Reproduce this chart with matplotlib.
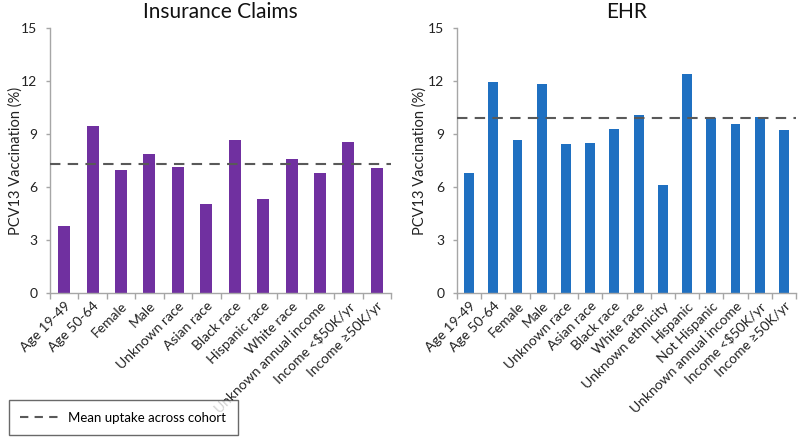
import matplotlib
matplotlib.use("Agg")
import matplotlib.pyplot as plt
from matplotlib.lines import Line2D
import numpy as np

plt.rcParams['font.family'] = ['Lato', 'DejaVu Sans']

ins_categories = ["Age 19-49", "Age 50-64", "Female", "Male", "Unknown race", "Asian race",
                  "Black race", "Hispanic race", "White race", "Unknown annual income",
                  "Income <$50K/yr", "Income \u226550K/yr"]
ins_values = [3.8, 9.43, 6.94, 7.87, 7.16, 5.03, 8.64, 5.33, 7.58, 6.82, 8.56, 7.05]
ins_mean = 7.28

ehr_categories = ["Age 19-49", "Age 50-64", "Female", "Male", "Unknown race", "Asian race",
                  "Black race", "White race", "Unknown ethnicity", "Hispanic", "Not Hispanic",
                  "Unknown annual income", "Income <$50K/yr", "Income \u226550K/yr"]
ehr_values = [6.79, 11.93, 8.64, 11.82, 8.45, 8.49, 9.28, 10.1, 6.13, 12.37, 9.89, 9.57, 9.97, 9.23]
ehr_mean = 9.89

yticks = [0, 3, 6, 9, 12, 15]

W, H = 800, 447
fig = plt.figure(figsize=(W / 100, H / 100), dpi=100)

gray = "#A6A6A6"


def panel(rect, cats, vals, mean, color, title, width, label_x):
    ax = fig.add_axes(rect)
    x = np.arange(len(cats))
    ax.bar(x, vals, width=width, color=color, zorder=2)
    ax.axhline(mean, color="#595959", lw=1.5, dashes=(5, 3.5), zorder=3)
    ax.set_xlim(-0.5, len(cats) - 0.5)
    ax.set_ylim(0, 15)
    ax.set_yticks(yticks)
    ax.set_yticklabels([str(t) for t in yticks], fontsize=10, color="#222222")
    ax.set_xticks(x)
    ax.set_xticklabels(cats, rotation=45, ha="right", rotation_mode="anchor",
                       fontsize=10, color="#222222")
    ax.tick_params(axis="x", which="major", length=0, pad=5)
    ax.set_xticks(np.arange(len(cats) + 1) - 0.5, minor=True)
    ax.tick_params(axis="x", which="minor", length=4, color=gray, width=1)
    ax.tick_params(axis="y", length=3, color=gray, width=1, pad=6)
    for s in ("top", "right"):
        ax.spines[s].set_visible(False)
    for s in ("left", "bottom"):
        ax.spines[s].set_color(gray)
        ax.spines[s].set_linewidth(1)
    ax.set_ylabel("PCV13 Vaccination (%)", fontsize=10.5, color="#222222")
    ax.yaxis.set_label_coords(label_x, 0.5)
    ax.set_title(title, fontsize=15, color="#111111", pad=7)
    return ax


top_px, bottom_px = 28, 293
h = (bottom_px - top_px) / H
y0 = (H - bottom_px) / H
panel([50 / W, y0, 341 / W, h], ins_categories, ins_values, ins_mean, "#7030A0",
      "Insurance Claims", 0.42, (23 - 50) / 341)
panel([457 / W, y0, 339 / W, h], ehr_categories, ehr_values, ehr_mean, "#1F70C1",
      "EHR", 0.41, (427 - 457) / 339)

handle = Line2D([], [], color="#595959", lw=1.5, dashes=(4, 3))
leg = fig.legend([handle], ["Mean uptake across cohort"], loc="lower left",
                 bbox_to_anchor=(2 / W, 5 / H), fontsize=9.5, frameon=True,
                 fancybox=False, handlelength=3.0, borderpad=0.9, handletextpad=0.6)
leg.get_frame().set_edgecolor("#444444")
leg.get_frame().set_linewidth(1)

fig.savefig("out.png", dpi=100)
